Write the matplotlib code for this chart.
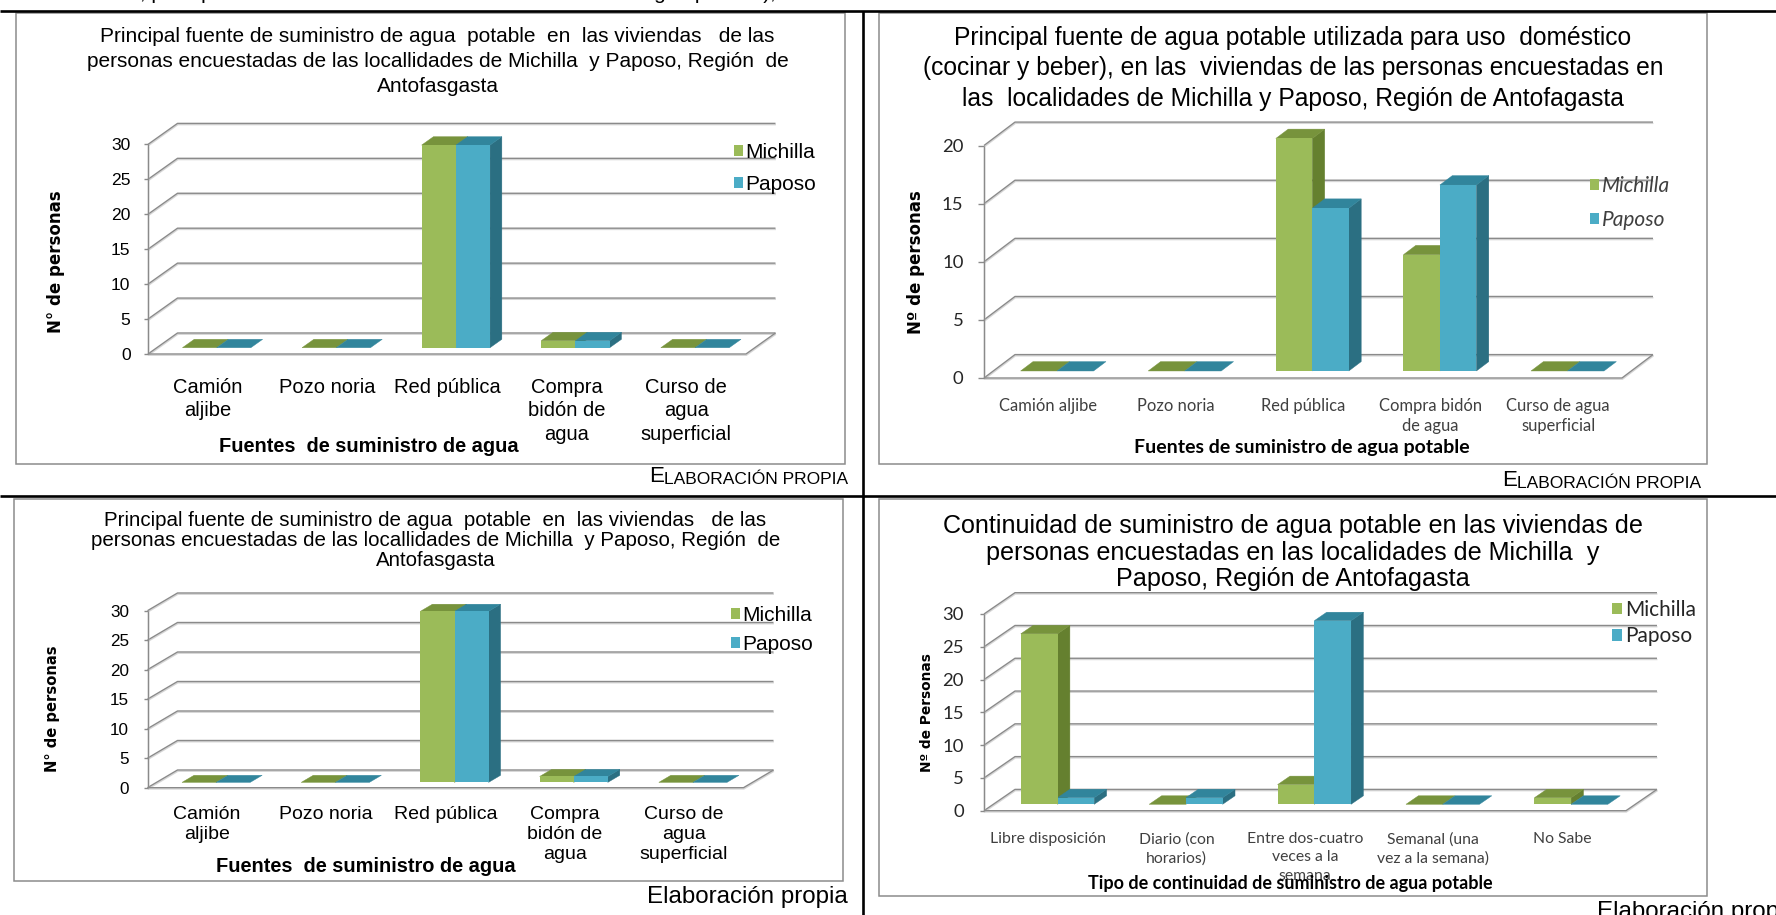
import numpy as np
import matplotlib
matplotlib.use("Agg")
import matplotlib.pyplot as plt
from matplotlib.patches import Polygon, Patch, Rectangle
import matplotlib.patheffects as pe

W, H, DPI = 1776, 915, 100

# ---------------------------------------------------------------- data
series = ["Michilla", "Paposo"]

cat_fuente = ["Camión\naljibe", "Pozo noria", "Red pública",
              "Compra\nbidón de\nagua", "Curso de\nagua\nsuperficial"]
cat_uso = ["Camión aljibe", "Pozo noria", "Red pública",
           "Compra bidón\nde agua", "Curso de agua\nsuperficial"]
cat_continuidad = ["Libre disposición", "Diario (con\nhorarios)",
                   "Entre dos-cuatro\nveces a la\nsemana",
                   "Semanal (una\nvez a la semana)", "No Sabe"]

fuente_michilla = [0, 0, 29, 1, 0]
fuente_paposo = [0, 0, 29, 1, 0]
uso_michilla = [0, 0, 20, 10, 0]
uso_paposo = [0, 0, 14, 16, 0]
cont_michilla = [26, 0, 3, 0, 1]
cont_paposo = [1, 1, 28, 0, 0]

title_fuente = ["Principal fuente de suministro de agua  potable  en  las viviendas   de las",
                "personas encuestadas de las locallidades de Michilla  y Paposo, Región  de",
                "Antofasgasta"]
title_uso = ["Principal fuente de agua potable utilizada para uso  doméstico",
             "(cocinar y beber), en las  viviendas de las personas encuestadas en",
             "las  localidades de Michilla y Paposo, Región de Antofagasta"]
title_cont = ["Continuidad de suministro de agua potable en las viviendas de",
              "personas encuestadas en las localidades de Michilla  y",
              "Paposo, Región de Antofagasta"]

xlabel_fuente = "Fuentes  de suministro de agua"
xlabel_uso = "Fuentes de suministro de agua potable"
xlabel_cont = "Tipo de continuidad de suministro de agua potable"

# ---------------------------------------------------------------- style
ARIAL = "Liberation Sans"
CALIBRI = "Lato"
VERDANA = "DejaVu Sans"
GRID = "#8a8a8a"
BORDER = "#8c8c8c"
PALETTE = [("#9BBB59", "#77933C", "#65802F"),   # front, top, side
           ("#4BACC6", "#31859C", "#2B6F82")]

fig = plt.figure(figsize=(W / DPI, H / DPI), dpi=DPI)
fig.patch.set_facecolor("white")

# page layer in pixel coordinates (y grows downwards)
bg = fig.add_axes([0, 0, 1, 1])
bg.set_xlim(0, W)
bg.set_ylim(H, 0)
bg.axis("off")

# table rules
bg.plot([0, W], [10.5, 10.5], color="black", lw=1.9, solid_capstyle="butt")
bg.plot([0, W], [496, 496], color="black", lw=1.9, solid_capstyle="butt")
bg.plot([862.7, 862.7], [10.5, H], color="black", lw=1.9, solid_capstyle="butt")

# chart frames
for (l, t, r, b) in [(15.5, 12.5, 844.6, 464), (879, 12.5, 1707, 464),
                     (14, 499, 843, 881), (879, 499, 1707, 895.5)]:
    bg.add_patch(Rectangle((l, t), r - l, b - t, fill=False, ec=BORDER, lw=1.1))

# last line of the preceding paragraph, cut by the page edge
bg.text(140, -0.6, ", principal fuente de abastecimiento es la conexión de agua potable),",
        family=ARIAL, fontsize=15, va="baseline", ha="left")


def small_caps_note(x_right, y_base, big, small):
    t = bg.text(x_right, y_base, "LABORACIÓN PROPIA", family=ARIAL, fontsize=small,
                ha="right", va="baseline")
    bg.annotate("E", xy=(0, 0), xycoords=t, family=ARIAL, fontsize=big,
                ha="right", va="bottom")


def column_chart(box, depth, ymax, cats, values, cfg):
    x0, x1, yz, yt = box
    n = len(cats)
    ax = fig.add_axes([x0 / W, 1 - yz / H, (x1 - x0) / W, (yz - yt) / H])
    ax.set_xlim(-0.5, n - 0.5)
    ax.set_ylim(0, ymax)
    ax.patch.set_visible(False)
    for sp in ax.spines.values():
        sp.set_visible(False)

    # oblique depth offset expressed in data units
    ux = (x1 - x0) / n
    uy = (yz - yt) / ymax
    ddx, ddy = depth[0] / ux, depth[1] / uy

    ticks = np.arange(0, ymax + 1, 5)
    shadow = [pe.SimpleLineShadow(offset=(0.3, -0.9), shadow_color="#d6d6d6", alpha=1),
              pe.Normal()]
    gl = dict(color=GRID, lw=1.0, clip_on=False, zorder=1,
              solid_capstyle="butt", path_effects=shadow)
    for v in ticks:
        ax.plot([-0.5, -0.5 + ddx, n - 0.5 + ddx], [v, v + ddy, v + ddy], **gl)
    ax.plot([-0.5, -0.5], [0, ymax], **gl)
    ax.plot([-0.5, n - 0.5, n - 0.5 + ddx], [0, 0, ddy], **gl)

    # 3-D clustered columns
    w = 0.286
    d0, d1 = 0.3, 0.7
    for s, (vals, (cf, ct, cs)) in enumerate(zip(values, PALETTE)):
        lefts = np.arange(n) - w + s * w
        ax.bar(lefts + d0 * ddx, vals, width=w, bottom=d0 * ddy, align="edge",
               color=cf, linewidth=0, zorder=5, clip_on=False)
        for L, v in zip(lefts, vals):
            fl, fr = L + d0 * ddx, L + w + d0 * ddx
            bl, br = L + d1 * ddx, L + w + d1 * ddx
            yf, yb = v + d0 * ddy, v + d1 * ddy
            ax.add_patch(Polygon([(fl, yf), (fr, yf), (br, yb), (bl, yb)], closed=True,
                                 fc=ct, ec=ct, lw=0.3, zorder=4, clip_on=False))
            if v > 0:
                ax.add_patch(Polygon([(fr, d0 * ddy), (br, d1 * ddy), (br, yb), (fr, yf)],
                                     closed=True, fc=cs, ec=cs, lw=0.3, zorder=3,
                                     clip_on=False))

    # axes text
    ax.set_yticks(ticks, labels=[str(t) for t in ticks], family=cfg["yfont"],
                  fontsize=cfg["ysize"], color=cfg["ycolor"])
    ax.tick_params(axis="y", length=cfg["ticklen"], width=1.0, color=GRID,
                   pad=cfg["ypad"])
    ax.set_xticks(range(n), labels=cats, family=cfg["xfont"], fontsize=cfg["xsize"],
                  color=cfg["xcolor"], linespacing=cfg["xls"])
    ax.tick_params(axis="x", length=0, pad=cfg["xpad"])

    ax.set_xlabel(cfg["xlabel"], family=cfg["xlfont"], fontsize=cfg["xlsize"],
                  fontweight="bold", va="center", ha="center")
    ax.xaxis.set_label_coords(*cfg["xlpos"], transform=bg.transData)
    ax.set_ylabel(cfg["ylabel"], family=VERDANA, fontsize=cfg["ylsize"],
                  fontweight="bold", va="center", ha="center")
    ax.yaxis.set_label_coords(*cfg["ylpos"], transform=bg.transData)

    for text, y in zip(cfg["title"], cfg["title_y"]):
        bg.text(cfg["title_x"], y, text, family=ARIAL, fontsize=cfg["tsize"],
                ha="center", va="center")

    fpx = cfg["lsize"] / 0.72
    handles = [Patch(facecolor=p[0], edgecolor="none") for p in PALETTE]
    ax.legend(handles, series, loc="upper left", bbox_to_anchor=cfg["legpos"],
              bbox_transform=bg.transData, frameon=False, borderpad=0,
              borderaxespad=0, handlelength=cfg["sq"] / fpx,
              handleheight=cfg["sq"] / fpx, handletextpad=cfg["htp"],
              labelspacing=cfg["lsp"], labelcolor=cfg["lcolor"],
              prop=dict(family=cfg["lfont"], size=cfg["lsize"], style=cfg["lstyle"]))
    return ax


column_chart((148, 746, 354, 144.4), (29.5, 21), 30, cat_fuente,
             [fuente_michilla, fuente_paposo],
             dict(yfont=ARIAL, ysize=12.6, ycolor="black", ticklen=2.9, ypad=9.7,
                  xfont=ARIAL, xsize=14.5, xcolor="black", xls=1.3, xpad=17.0,
                  xlabel=xlabel_fuente, xlfont=ARIAL, xlsize=14.4, xlpos=(369, 447),
                  ylabel="N° de personas", ylsize=12.0, ylpos=(55.5, 262),
                  title=title_fuente, title_x=437.5, title_y=(36.7, 61.7, 86.7), tsize=15,
                  lsize=15, lfont=ARIAL, lstyle="normal", lcolor="black",
                  legpos=(734, 142.5), sq=9, htp=0.12, lsp=0.66))
small_caps_note(848, 484.5, 16.0, 12.5)

column_chart((984, 1622, 378, 145.5), (31, 23.4), 20, cat_uso,
             [uso_michilla, uso_paposo],
             dict(yfont=CALIBRI, ysize=13.3, ycolor="#262626", ticklen=4.3, ypad=10.5,
                  xfont=CALIBRI, xsize=11.9, xcolor="#404040", xls=1.3, xpad=14.4,
                  xlabel=xlabel_uso, xlfont=CALIBRI, xlsize=14.0, xlpos=(1302, 447),
                  ylabel="Nº de personas", ylsize=12.0, ylpos=(915.5, 262),
                  title=title_uso, title_x=1293, title_y=(38, 68, 99), tsize=17.7,
                  lsize=15, lfont=CALIBRI, lstyle="italic", lcolor="#404040",
                  legpos=(1590, 176), sq=9, htp=0.15, lsp=0.67))
small_caps_note(1701, 488.5, 16.0, 12.5)

column_chart((147.5, 743.5, 787.7, 610.7), (30, 17.7), 30, cat_fuente,
             [fuente_michilla, fuente_paposo],
             dict(yfont=ARIAL, ysize=12.3, ycolor="black", ticklen=2.9, ypad=10.3,
                  xfont=ARIAL, xsize=14.0, xcolor="black", xls=1.22, xpad=13.5,
                  xlabel=xlabel_fuente, xlfont=ARIAL, xlsize=14.4, xlpos=(366, 866),
                  ylabel="N° de personas", ylsize=10.6, ylpos=(52.7, 709),
                  title=title_fuente, title_x=435.5, title_y=(520, 541, 561), tsize=14.8,
                  lsize=15, lfont=ARIAL, lstyle="normal", lcolor="black",
                  legpos=(731, 606), sq=9, htp=0.12, lsp=0.48))
bg.text(848, 903.3, "Elaboración propia", family=ARIAL, fontsize=17.4,
        ha="right", va="baseline")

column_chart((984, 1626, 810.7, 614), (31, 21.3), 30, cat_continuidad,
             [cont_michilla, cont_paposo],
             dict(yfont=CALIBRI, ysize=13.3, ycolor="#262626", ticklen=3.1, ypad=11.3,
                  xfont=CALIBRI, xsize=11.3, xcolor="#404040", xls=1.38, xpad=15.5,
                  xlabel=xlabel_cont, xlfont=CALIBRI, xlsize=13.0, xlpos=(1290.5, 884),
                  ylabel="Nº de Personas", ylsize=9.9, ylpos=(927, 712.5),
                  title=title_cont, title_x=1292.5, title_y=(526, 552.7, 579), tsize=18.1,
                  lsize=15, lfont=CALIBRI, lstyle="normal", lcolor="#262626",
                  legpos=(1612, 600), sq=10, htp=0.15, lsp=0.3))
bg.text(1597, 918, "Elaboración propia", family=ARIAL, fontsize=17.4,
        ha="left", va="baseline")

fig.savefig("out.png", dpi=DPI, facecolor="white")
